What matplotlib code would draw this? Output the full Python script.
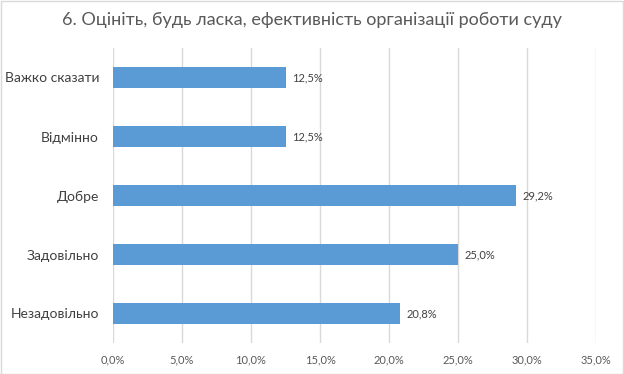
import matplotlib
matplotlib.use("Agg")
import matplotlib.pyplot as plt
from matplotlib.patches import Rectangle

plt.rcParams['font.family'] = ['Lato', 'DejaVu Sans']

title = "6. Оцініть, будь ласка, ефективність організації роботи суду"
categories = ["Незадовільно", "Задовільно", "Добре", "Відмінно", "Важко сказати"]
values = [20.8, 25.0, 29.2, 12.5, 12.5]
xticks = [0, 5, 10, 15, 20, 25, 30, 35]

fig = plt.figure(figsize=(6.24, 3.74), dpi=100)
ax = fig.add_axes([113/624, 1-343/374, (596-113)/624, (343-48)/374])

ypos = list(range(len(categories)))
ax.barh(ypos, values, height=0.36, color="#5B9BD5", zorder=3)
for y, v in zip(ypos, values):
    ax.text(v + 0.5, y, f"{v:.1f}%".replace(".", ","), va="center", ha="left",
            fontsize=8, color="#404040")

ax.set_xlim(0, 35)
ax.set_ylim(-0.5, len(categories) - 0.5)
ax.set_xticks(xticks)
ax.set_xticklabels([f"{t:.1f}%".replace(".", ",") for t in xticks], fontsize=8, color="#595959")
ax.set_yticks(ypos)
ax.set_yticklabels(categories, fontsize=10, color="#404040")
ax.tick_params(axis='both', length=0)
ax.tick_params(axis='x', pad=8)
ax.tick_params(axis='y', pad=10)
ax.grid(axis='x', color="#D9D9D9", linewidth=1, zorder=0)
for s in ax.spines.values():
    s.set_visible(False)

fig.text(0.5, 1 - 20/374, title, ha="center", va="center", fontsize=13, color="#595959")
fig.patches.append(Rectangle((0.5/624, 0.5/374), 1 - 1.5/624, 1 - 1.5/374, transform=fig.transFigure,
                             fill=False, edgecolor="#D9D9D9", linewidth=1))

fig.savefig("out.png", dpi=100)
